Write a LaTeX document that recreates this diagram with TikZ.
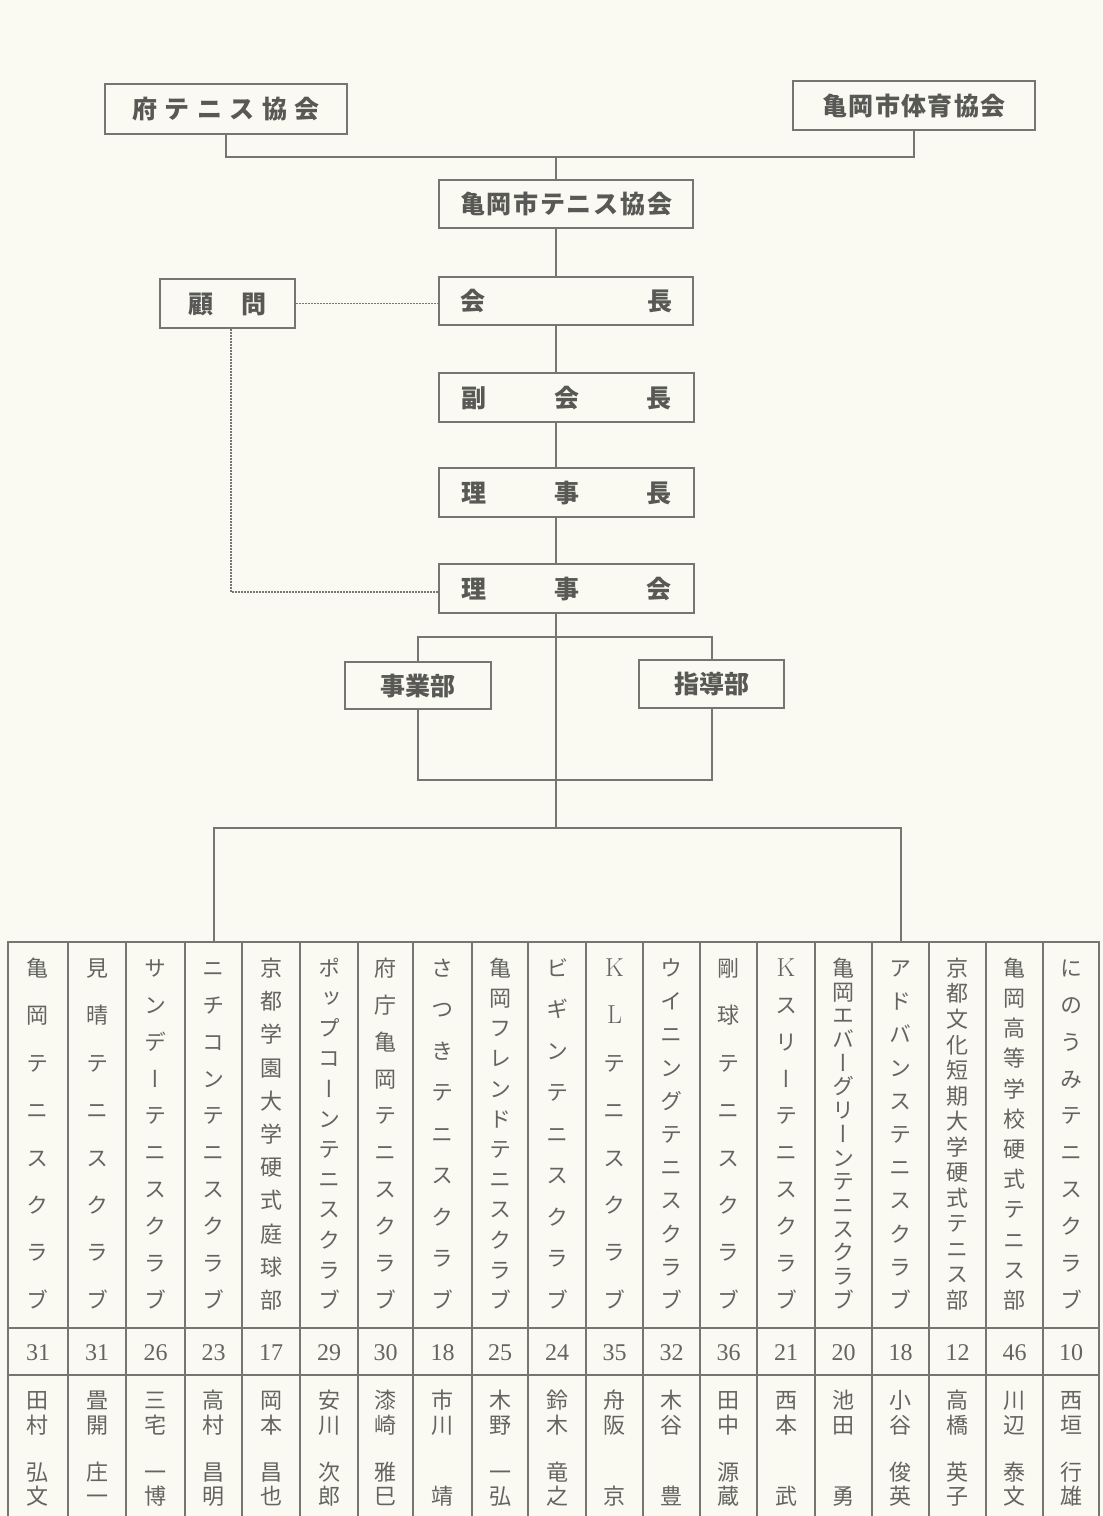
\documentclass[tikz,border=0pt]{standalone}
\usepackage{fontspec}
\newfontfamily\jp{Noto Sans CJK JP}
\newfontfamily\jpv[RawFeature=+vert]{Noto Sans CJK JP}
\newfontfamily\numf{Liberation Serif}
\definecolor{paper}{RGB}{250,250,242}
\definecolor{ink}{RGB}{118,118,112}
\definecolor{txt}{RGB}{88,88,84}
\definecolor{ttxt}{RGB}{100,100,96}
\pgfdeclarelayer{paperL}
\pgfdeclarelayer{bg}
\pgfsetlayers{paperL,bg,main}
\newcommand\latK[1]{{\rmfamily\fontsize{26}{26}\selectfont #1}}
\tikzset{
  orgbox/.style={draw=ink, line width=2.4pt, fill=paper, inner sep=0pt,
    font=\jp\bfseries\fontsize{25}{25}\selectfont, text=txt,
    text height=22pt, text depth=3pt},
  conn/.style={draw=ink, line width=2pt},
  dotl/.style={draw=ink, line width=1.4pt, dash pattern=on 1.6pt off 1.4pt},
  tab/.style={draw=ink, line width=2pt},
  clubtxt/.style={inner sep=0pt, font=\jpv\fontsize{22}{22}\selectfont, text=ttxt,
    text height=19.4pt, text depth=2.6pt},
  nametxt/.style={inner sep=0pt, font=\jp\fontsize{22}{22}\selectfont, text=ttxt,
    text height=19.4pt, text depth=2.6pt},
  numtxt/.style={inner sep=0pt, font=\numf\fontsize{24}{24}\selectfont, text=ttxt}
}
\begin{document}
\begin{tikzpicture}[x=1pt,y=-1pt]
\useasboundingbox (0,0) rectangle (1103,1516);
\begin{pgfonlayer}{paperL}
\fill[paper] (0,0) rectangle (1103,1516);
\end{pgfonlayer}

% ---- organisation boxes
\node[orgbox, minimum width=242pt, minimum height=50pt] (fu) at (226,109)
  {\makebox[187pt][s]{府\hfill テ\hfill ニ\hfill ス\hfill 協\hfill 会}};
\node[orgbox, minimum width=242pt, minimum height=49pt] (tai) at (914,105.5)
  {\makebox[183pt][s]{亀\hfill 岡\hfill 市\hfill 体\hfill 育\hfill 協\hfill 会}};
\node[orgbox, minimum width=254pt, minimum height=48pt] (tk) at (566,204)
  {\makebox[212pt][s]{亀\hfill 岡\hfill 市\hfill テ\hfill ニ\hfill ス\hfill 協\hfill 会}};
\node[orgbox, minimum width=254pt, minimum height=48pt] (kai) at (566,301)
  {\makebox[212pt][s]{会\hfill 長}};
\node[orgbox, minimum width=255pt, minimum height=49pt] (fuku) at (566.5,397.5)
  {\makebox[210pt][s]{副\hfill 会\hfill 長}};
\node[orgbox, minimum width=255pt, minimum height=49pt] (rijicho) at (566.5,492.5)
  {\makebox[210pt][s]{理\hfill 事\hfill 長}};
\node[orgbox, minimum width=255pt, minimum height=49pt] (rijikai) at (566.5,588.5)
  {\makebox[210pt][s]{理\hfill 事\hfill 会}};
\node[orgbox, minimum width=135pt, minimum height=49pt] (komon) at (227.5,303.5)
  {\makebox[78pt][s]{顧\hfill 問}};
\node[orgbox, minimum width=146pt, minimum height=47pt] (jigyo) at (418,685.5)
  {事業部};
\node[orgbox, minimum width=145pt, minimum height=48pt] (shido) at (711.5,684)
  {指導部};

% ---- connectors
\coordinate (sp) at (556,0);
\coordinate (topj) at (556,157);
\coordinate (hub) at (556,828);
\coordinate (brt) at (0,637);
\coordinate (brb) at (0,780);
\coordinate (dx) at (231,592);
\coordinate (c4top) at (213.5,942);
\coordinate (c16top) at (900.5,942);

\draw[conn] (fu.south) |- (topj) -| (tai.south);
\draw[conn] (topj) -- (tk.north -| topj);
\draw[conn] (tk.south -| sp) -- (kai.north -| sp);
\draw[conn] (kai.south -| sp) -- (fuku.north -| sp);
\draw[conn] (fuku.south -| sp) -- (rijicho.north -| sp);
\draw[conn] (rijicho.south -| sp) -- (rijikai.north -| sp);
\draw[conn] (rijikai.south -| sp) -- (hub);
\begin{pgfonlayer}{bg}
\draw[conn] (jigyo.center |- brt) rectangle (shido.center |- brb);
\end{pgfonlayer}
\draw[conn] (c4top) |- (hub) -| (c16top);

\draw[dotl] (komon.east) -- (komon.east -| kai.west);
\draw[dotl] (komon.south -| dx) |- (rijikai.west |- dx);

% ---- table grid
\foreach \x in {8,68,126,185,242,300,358,413,472,528,586,643,700,757,815,872,929,986,1043,1099}
  \draw[tab] (\x,941) -- (\x,1520);
\foreach \y in {942,1328,1375}
  \draw[tab] (7,\y) -- (1100,\y);

% ---- table contents
\foreach \i/\xa/\xb/\n/\chars/\num/\sur/\gy/\given in {
 1/8/68/8/{亀,岡,テ,ニ,ス,ク,ラ,ブ}/31/{田,村}/1472/{弘,文},
 2/68/126/8/{見,晴,テ,ニ,ス,ク,ラ,ブ}/31/{畳,開}/1472/{庄,一},
 3/126/185/10/{サ,ン,デ,ー,テ,ニ,ス,ク,ラ,ブ}/26/{三,宅}/1472/{一,博},
 4/185/242/10/{ニ,チ,コ,ン,テ,ニ,ス,ク,ラ,ブ}/23/{高,村}/1472/{昌,明},
 5/242/300/11/{京,都,学,園,大,学,硬,式,庭,球,部}/17/{岡,本}/1472/{昌,也},
 6/300/358/12/{ポ,ッ,プ,コ,ー,ン,テ,ニ,ス,ク,ラ,ブ}/29/{安,川}/1472/{次,郎},
 7/358/413/10/{府,庁,亀,岡,テ,ニ,ス,ク,ラ,ブ}/30/{漆,崎}/1472/{雅,巳},
 8/413/472/9/{さ,つ,き,テ,ニ,ス,ク,ラ,ブ}/18/{市,川}/1496/{靖},
 9/472/528/12/{亀,岡,フ,レ,ン,ド,テ,ニ,ス,ク,ラ,ブ}/25/{木,野}/1472/{一,弘},
 10/528/586/9/{ビ,ギ,ン,テ,ニ,ス,ク,ラ,ブ}/24/{鈴,木}/1472/{竜,之},
 11/586/643/8/{\latK{K},\latK{L},テ,ニ,ス,ク,ラ,ブ}/35/{舟,阪}/1496/{京},
 12/643/700/11/{ウ,イ,ニ,ン,グ,テ,ニ,ス,ク,ラ,ブ}/32/{木,谷}/1496/{豊},
 13/700/757/8/{剛,球,テ,ニ,ス,ク,ラ,ブ}/36/{田,中}/1472/{源,蔵},
 14/757/815/10/{\latK{K},ス,リ,ー,テ,ニ,ス,ク,ラ,ブ}/21/{西,本}/1496/{武},
 15/815/872/15/{亀,岡,エ,バ,ー,グ,リ,ー,ン,テ,ニ,ス,ク,ラ,ブ}/20/{池,田}/1496/{勇},
 16/872/929/11/{ア,ド,バ,ン,ス,テ,ニ,ス,ク,ラ,ブ}/18/{小,谷}/1472/{俊,英},
 17/929/986/14/{京,都,文,化,短,期,大,学,硬,式,テ,ニ,ス,部}/12/{高,橋}/1472/{英,子},
 18/986/1043/12/{亀,岡,高,等,学,校,硬,式,テ,ニ,ス,部}/46/{川,辺}/1472/{泰,文},
 19/1043/1099/10/{に,の,う,み,テ,ニ,ス,ク,ラ,ブ}/10/{西,垣}/1472/{行,雄}%
}{
 \pgfmathsetmacro\xc{(\xa+\xb)/2}
 \foreach \ch [count=\j] in \chars
   {\node[clubtxt] (club\i-\j) at (\xc,{968+(\j-1)*332/(\n-1)}) {\ch};}
 \node[numtxt] (num\i) at (\xc,1353) {\num};
 \foreach \s [count=\k] in \sur
   {\node[nametxt] (sur\i-\k) at (\xc,{1400+(\k-1)*25}) {\s};}
 \foreach \g [count=\k] in \given
   {\node[nametxt] (giv\i-\k) at (\xc,{\gy+(\k-1)*24}) {\g};}
}
\end{tikzpicture}
\end{document}
